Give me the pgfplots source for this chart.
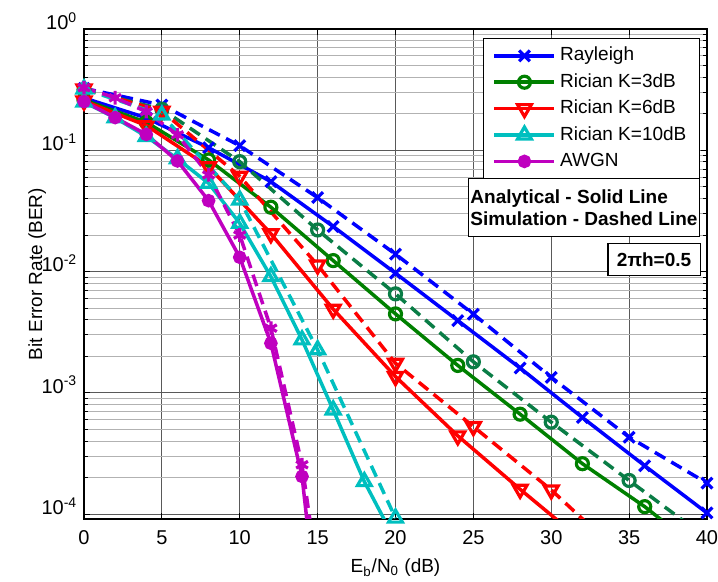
\documentclass[border=0pt]{standalone}
\usepackage{pgfplots}
\pgfplotsset{compat=1.18}
\usepackage{fontspec}
\setmainfont{Liberation Sans}
\definecolor{mblue}{rgb}{0,0,1}
\definecolor{mgreen}{rgb}{0,0.5,0}
\definecolor{dgreen}{RGB}{10,125,70}
\definecolor{mred}{rgb}{1,0,0}
\definecolor{mcyan}{rgb}{0,0.75,0.75}
\definecolor{mmag}{rgb}{0.75,0,0.75}

\begin{document}
\fontsize{9.5}{11.4}\selectfont
\begin{tikzpicture}
\begin{axis}[name=ax, scale only axis, width=311.5pt, height=245pt,
  xmin=0, xmax=40, ymode=log, ymin=9.1e-5, ymax=1,
  xtick={0,5,...,40},
  ytick={1e-4,1e-3,1e-2,1e-1,1},
  yticklabels={10\textsuperscript{-4},10\textsuperscript{-3},10\textsuperscript{-2},10\textsuperscript{-1},10\textsuperscript{0}},
  minor ytick={2e-4,3e-4,4e-4,5e-4,6e-4,7e-4,8e-4,9e-4,2e-3,3e-3,4e-3,5e-3,6e-3,7e-3,8e-3,9e-3,
    2e-2,3e-2,4e-2,5e-2,6e-2,7e-2,8e-2,9e-2,0.2,0.3,0.4,0.5,0.6,0.7,0.8,0.9},
  grid=both, major grid style={black!65, line width=0.5pt}, minor grid style={black!30, line width=0.5pt},
  axis line style={line width=0.7pt}, major tick length=3pt, minor tick length=2pt,
  tick style={black, line width=0.5pt},
  /pgf/number format/assume math mode=true,
  yticklabel style={yshift=4pt, font=\fontsize{10}{12}\selectfont},
  xticklabel style={yshift=-2.5pt, font=\fontsize{10}{12}\selectfont},
  xlabel={E\textsubscript{b}/N\textsubscript{0} (dB)},
  ylabel={Bit Error Rate (BER)},
  every axis x label/.style={at={(axis description cs:0.5,-0.10)}, anchor=center},
  every axis y label/.style={at={(axis description cs:-0.075,0.5)}, rotate=90, anchor=center},
  legend image code/.code={\draw[mark repeat=2,mark phase=2,#1] plot coordinates {(0pt,0pt) (15pt,0pt) (30pt,0pt)};},
  legend style={at={(0.9888,0.9816)}, anchor=north east, draw=black, line width=0.6pt, fill=white,
    inner xsep=4.5pt, inner ysep=2pt, row sep=0pt,
    nodes={inner xsep=2pt, inner ysep=2.1pt, text height=7pt, text depth=2pt}},
  legend cell align=left,
  every axis plot/.append style={line width=1.75pt, mark options={solid, line width=1.6pt}},
  sim/.style={dash pattern=on 6pt off 3.5pt},
  vtri/.style={mark=triangle, mark options={solid, line width=1.6pt, rotate=180}},
]
% Rayleigh
\addplot[mblue, mark=x, mark size=3.8pt] coordinates {
(0,0.27) (4,0.185) (8,0.105) (12,0.0551) (16,0.0235) (20,0.00968) (24,0.00394) (28,0.00160) (32,6.25e-4) (36,2.5e-4) (40,1.02e-4)};
\addlegendentry{Rayleigh}
\addplot[mblue, sim, mark=x, mark size=3.8pt, forget plot] coordinates {
(0,0.324) (5,0.236) (10,0.109) (15,0.0407) (20,0.0139) (25,0.00445) (30,0.00134) (35,4.3e-4) (40,1.8e-4)};
% Rician K=3dB
\addplot[mgreen, mark=o, mark size=3pt] coordinates {
(0,0.26) (4,0.17) (8,0.0832) (12,0.0339) (16,0.0123) (20,0.00447) (24,0.00168) (28,6.66e-4) (32,2.6e-4) (36,1.15e-4) (40,4.5e-5)};
\addlegendentry{Rician K=3dB}
\addplot[dgreen, sim, mark=o, mark size=3pt, forget plot] coordinates {
(0,0.315) (5,0.218) (10,0.0805) (15,0.022) (20,0.00654) (25,0.0018) (30,5.72e-4) (35,1.89e-4) (40,6.3e-5)};
% Rician K=6dB
\addplot[mred, vtri, mark size=4pt] coordinates {
(0,0.255) (4,0.16) (8,0.0732) (12,0.0205) (16,0.00489) (20,0.00136) (24,4.41e-4) (28,1.6e-4) (32,6e-5)};
\addlegendentry{Rician K=6dB}
\addplot[mred, sim, vtri, mark size=4pt, forget plot] coordinates {
(0,0.32) (5,0.21) (10,0.061) (15,0.0113) (20,0.00175) (25,5.26e-4) (30,1.58e-4) (35,4e-5)};
% Rician K=10dB
\addplot[mcyan, mark=triangle, mark size=4pt] coordinates {
(0,0.25) (2,0.185) (4,0.13) (6,0.085) (8,0.0534) (10,0.025) (12,0.00908) (14,0.00273) (16,7.22e-4) (18,1.85e-4) (20,6e-5)};
\addlegendentry{Rician K=10dB}
\addplot[mcyan, sim, mark=triangle, mark size=4pt, forget plot] coordinates {
(0,0.32) (5,0.195) (10,0.0389) (15,0.00226) (20,9.25e-5)};
% AWGN
\addplot[mmag, mark=*, mark size=2.6pt] coordinates {
(0,0.252) (2,0.186) (4,0.135) (6,0.0816) (8,0.0384) (10,0.0131) (12,0.00256) (14,2.04e-4) (16,1e-6)};
\addlegendentry{AWGN}
\addplot[mmag, sim, mark=asterisk, mark size=3.4pt, forget plot] coordinates {
(0,0.328) (2,0.271) (4,0.208) (6,0.134) (8,0.0626) (10,0.020) (12,0.00341) (14,2.55e-4) (16,4e-6)};

\node[draw=black, fill=white, line width=0.6pt, anchor=north east, align=left,
  font=\fontsize{9.5}{11}\selectfont\bfseries, inner xsep=1pt, inner ysep=5.5pt]
  at (rel axis cs:0.9888,0.696) {Analytical - Solid Line\\Simulation - Dashed Line};
\node[draw=black, fill=white, line width=0.6pt, anchor=north east,
  font=\fontsize{9.5}{11}\selectfont\bfseries, inner xsep=4.5pt, inner ysep=4.5pt]
  at (rel axis cs:0.99,0.563) {2πh=0.5};
\end{axis}
\pgfresetboundingbox
\path[use as bounding box] ([shift={(-42pt,-31.5pt)}]ax.south west) rectangle ([shift={(5.5pt,14.5pt)}]ax.north east);
\end{tikzpicture}
\end{document}
